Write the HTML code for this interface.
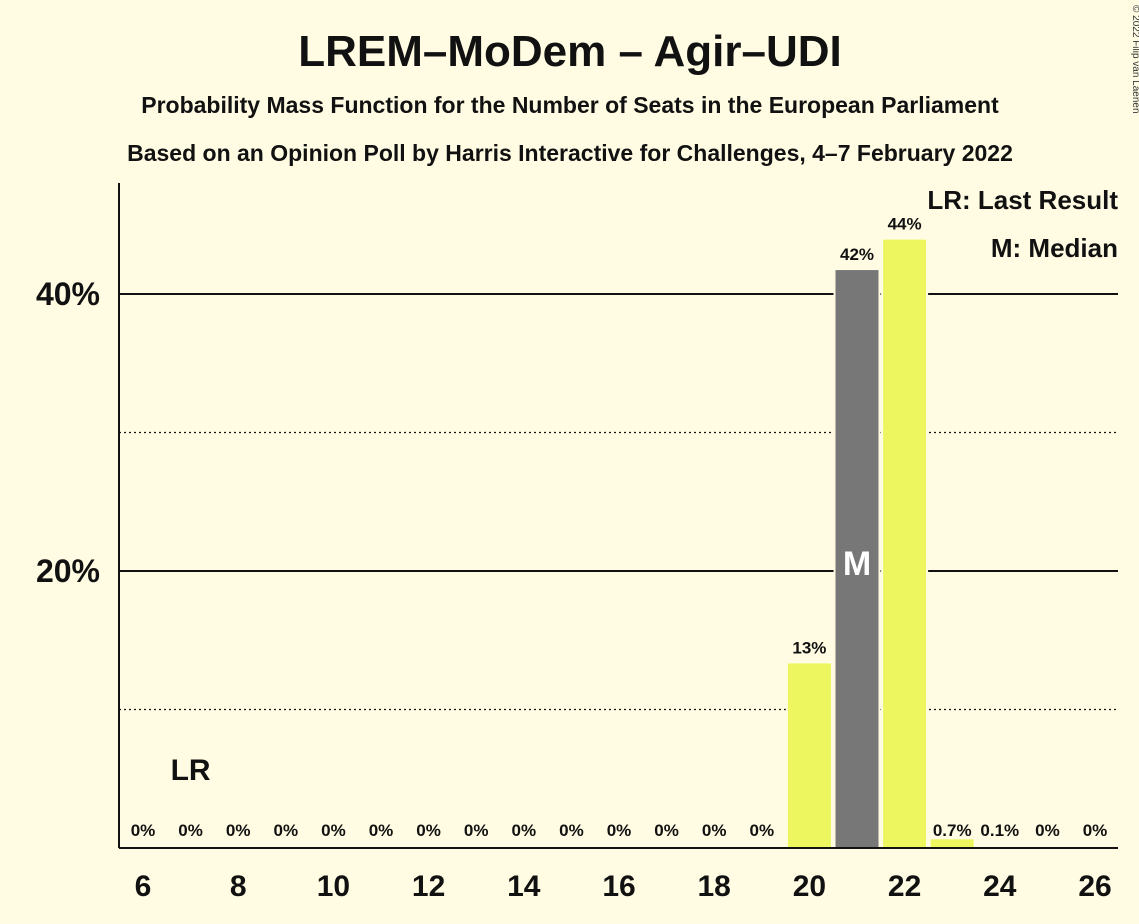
<!DOCTYPE html>
<html><head><meta charset="utf-8"><style>
body{margin:0;background:#fffce3;}
svg{display:block;font-family:"Liberation Sans",sans-serif;}
</style></head><body>
<svg width="1139" height="924" viewBox="0 0 1139 924">
<rect width="1139" height="924" fill="#fffce3"/>
<text x="570" y="66" text-anchor="middle" font-size="44" font-weight="bold" fill="#111">LREM–MoDem – Agir–UDI</text>
<text x="570" y="113" text-anchor="middle" font-size="23" font-weight="bold" fill="#111">Probability Mass Function for the Number of Seats in the European Parliament</text>
<text x="570" y="161" text-anchor="middle" font-size="23" font-weight="bold" fill="#111">Based on an Opinion Poll by Harris Interactive for Challenges, 4–7 February 2022</text>
<text x="1133" y="5" font-size="10" fill="#333" transform="rotate(90 1133 5)" text-anchor="start" dy="0">© 2022 Filip van Laenen</text>
<g id="grid"></g>
<g id="bars"></g>
<line x1="119" y1="183" x2="119" y2="848" stroke="#111" stroke-width="2"/>
<line x1="119" y1="848" x2="1118" y2="848" stroke="#111" stroke-width="2"/>
<text x="1118" y="209" text-anchor="end" font-size="26" font-weight="bold" fill="#111">LR: Last Result</text>
<text x="1118" y="257" text-anchor="end" font-size="26" font-weight="bold" fill="#111">M: Median</text>
<g id="labels"></g>
</svg>
<script>
const seats=[6,7,8,9,10,11,12,13,14,15,16,17,18,19,20,21,22,23,24,25,26];
const probs=[0,0,0,0,0,0,0,0,0,0,0,0,0,0,13.4,41.8,44.0,0.7,0.1,0,0];
const valueLabels=["0%","0%","0%","0%","0%","0%","0%","0%","0%","0%","0%","0%","0%","0%","13%","42%","44%","0.7%","0.1%","0%","0%"];
const yTicks=[10,20,30,40];
const yTickLabels={20:"20%",40:"40%"};
const xTicks=[6,8,10,12,14,16,18,20,22,24,26];
const median=21, lastResult=7;
const NS="http://www.w3.org/2000/svg";
const xS=s=>143+(s-6)*47.6;
const yS=v=>848-v*13.85;
function mk(t,a,p){const e=document.createElementNS(NS,t);for(const k in a)e.setAttribute(k,a[k]);p.appendChild(e);return e;}
const grid=document.getElementById('grid'),bars=document.getElementById('bars'),labels=document.getElementById('labels');
yTicks.forEach(v=>{
  const major=v%20===0;
  const l=mk('line',{x1:119,x2:1118,y1:yS(v),y2:yS(v),stroke:'#111','stroke-width':major?2:1.2},grid);
  if(!major)l.setAttribute('stroke-dasharray','2,3');
  
  
  if(yTickLabels[v]){
    const t=mk('text',{x:100,y:yS(v)+11,'text-anchor':'end','font-size':32,'font-weight':'bold',fill:'#111'},labels);
    t.textContent=yTickLabels[v];
    
    
  }
});
seats.forEach((s,i)=>{
  const v=probs[i];
  if(v>0){
    const r=mk('rect',{x:xS(s)-22.5,y:yS(v),width:45,height:848-yS(v),fill:s===median?'#777777':'#edf65f',stroke:'#fffce3','stroke-width':2},bars);
    
    
  }
  const t=mk('text',{x:xS(s),y:v>1?yS(v)-9:836,'text-anchor':'middle','font-size':17,'font-weight':'bold',fill:'#111'},labels);
  t.textContent=valueLabels[i];
  
  
  if(s===median){
    const m=mk('text',{x:xS(s),y:yS(20)+4,'text-anchor':'middle','font-size':34,'font-weight':'bold',fill:'#fff'},labels);
    m.textContent='M';
    
    
  }
  if(s===lastResult){
    const m=mk('text',{x:xS(s),y:780,'text-anchor':'middle','font-size':30,'font-weight':'bold',fill:'#111'},labels);
    m.textContent='LR';
    
    
  }
});
xTicks.forEach(s=>{
  const t=mk('text',{x:xS(s),y:896,'text-anchor':'middle','font-size':30,'font-weight':'bold',fill:'#111'},labels);
  t.textContent=s;
  
  
});
</script>
</body></html>
